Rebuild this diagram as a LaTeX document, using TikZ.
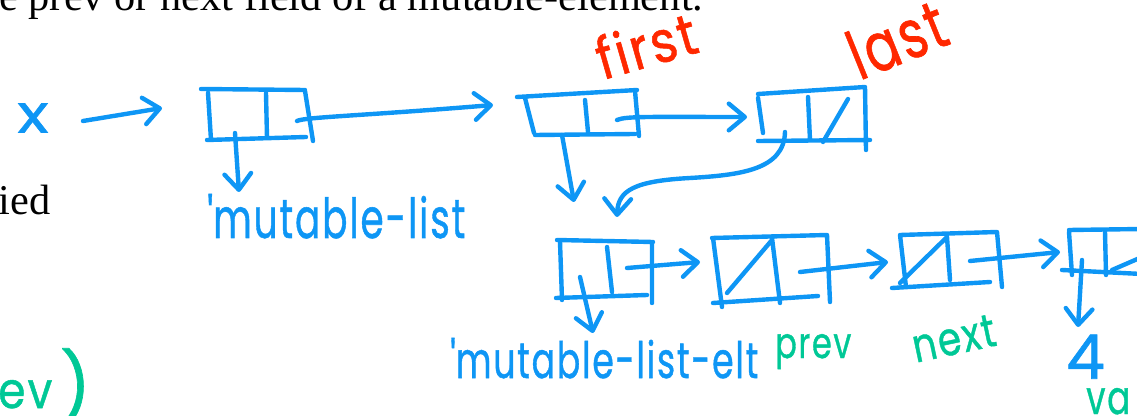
\documentclass[tikz,border=0pt]{standalone}
\usepackage{fontspec}
\setmainfont{Liberation Serif}
\newfontfamily\handfont[FakeBold=1,LetterSpace=5]{Poppins}
\usetikzlibrary{arrows.meta}
\newdimen\pxu \pxu=0.75pt
% scale a piece of lettering to a given width / height (in px units)
\newcommand\fitw[2]{\resizebox{#1\pxu}{!}{#2}}
\newcommand\fitwh[3]{\resizebox{#1\pxu}{#2\pxu}{#3}}
\newcommand\fith[2]{\resizebox*{!}{#1\pxu}{#2}}
\definecolor{inkblue}{RGB}{14,150,245}
\definecolor{inkred}{RGB}{255,40,0}
\definecolor{inkgreen}{RGB}{0,200,150}
\begin{document}
\begin{tikzpicture}[x=0.75pt,y=-0.75pt,
  pen/.style={line width=3.3pt, line cap=round, line join=round, draw=inkblue},
  ptr/.style={pen, -{Straight Barb[length=12pt,width=20pt,round]}},
  hand/.style={inner sep=0pt, font=\handfont},
  print/.style={inner sep=0pt, font=\fontsize{31.8}{38}\selectfont, text=black}]
\useasboundingbox (0,0) rectangle (1137,416);
\clip (0,0) rectangle (1137,416);

% printed text of the page
\node[print, anchor=base west] (line1) at (-1,11) {e prev or next field of a mutable-element.};
\node[print, anchor=base east] (word) at (51,215) {ied};

% variable x
\node[hand, text=inkblue] (xvar) at (33,118) {\fitwh{31}{29}{x}};
\coordinate (xout) at (83,121);
\coordinate (b1in) at (162,108);
\draw[ptr] (xout) -- (b1in);

% box 1: two fields
\draw[pen] (201,89) -- (305,90)  (208,93) -- (211,140)  (207,140) -- (306,137)
           (266,93) -- (267,138)  (305,91) -- (313,141);
\coordinate (b1nx) at (297,121);
\coordinate (b2in) at (493,105);
\draw[ptr] (b1nx) .. controls (305,117) and (360,116) .. (b2in);
\coordinate (b1car) at (235,133);
\coordinate (tag1) at (239,192);
\draw[ptr] (b1car) -- (tag1);
\node[hand, text=inkblue, anchor=base west] (lbl1) at (207,238) {\fitwh{258}{44}{\textquotesingle mutable-list}};

% box 2: first / last header
\draw[pen] (517,97) -- (637,90)  (525,98) -- (534,133)  (535,135) -- (635,134)
           (585,100) -- (588,132)  (635,91) -- (639,136);
\node[hand, text=inkred, anchor=base, rotate=16] (first) at (652,66) {\fitwh{102}{44}{first}};
\coordinate (b2nx) at (617,120);
\coordinate (b3in) at (747,117);
\draw[ptr] (b2nx) .. controls (626,116) and (650,117) .. (b3in);
\coordinate (b2car) at (562,135);
\coordinate (e1a) at (574,202);
\draw[ptr] (b2car) -- (e1a);

% box 3: last
\draw[pen] (758,94) -- (865,87)  (758,98) -- (763,133)  (758,141) -- (870,140)
           (808,97) -- (810,140)  (865,87) -- (866,150)  (848,99) -- (823,142);
\node[hand, text=inkred, anchor=base, rotate=22] (last) at (906,62) {\fitwh{100}{50}{last}};
\coordinate (b3car) at (785,132);
\coordinate (b3mid) at (690,178);
\coordinate (e1b) at (617,217);
\draw[ptr] (b3car) .. controls (784,170) and (740,175) .. (b3mid)
                   .. controls (635,181) and (618,190) .. (e1b);

% box 4: first element
\draw[pen] (557,240) -- (653,242)  (560,242) -- (562,300)  (556,298) -- (647,295)
           (607,247) -- (612,292)  (652,242) -- (652,303);
\coordinate (b4nx) at (627,268);
\coordinate (b5in) at (700,262);
\draw[ptr] (b4nx) -- (b5in);
\coordinate (b4car) at (580,277);
\coordinate (tag2) at (593,333);
\draw[ptr] (b4car) -- (tag2);
\node[hand, text=inkblue, anchor=base west] (lbl2) at (450,378) {\fitwh{308}{40}{\textquotesingle mutable-list-elt}};
\node[hand, text=inkgreen, anchor=base west] (prev) at (775,358) {\fitwh{76}{24}{prev}};

% box 5
\draw[pen] (712,238) -- (827,235)  (713,238) -- (722,307)  (713,303) -- (818,296)
           (772,238) -- (780,303)  (827,235) -- (830,302)  (727,293) -- (772,240);
\coordinate (b5nx) at (800,272);
\coordinate (b6in) at (888,262);
\draw[ptr] (b5nx) -- (b6in);

% box 6
\draw[pen] (900,235) -- (997,232)  (900,235) -- (906,287)  (892,288) -- (990,282)
           (947,237) -- (950,280)  (997,232) -- (1002,287)  (900,283) -- (947,237);
\node[hand, text=inkgreen, anchor=base, rotate=12] (next) at (957,354) {\fitwh{84}{32}{next}};
\coordinate (b6nx) at (970,261);
\coordinate (b7in) at (1060,252);
\draw[ptr] (b6nx) -- (b7in);

% box 7
\draw[pen] (1069,230) -- (1142,229)  (1069,232) -- (1072,275)  (1062,270) -- (1142,274)
           (1105,232) -- (1106,275);
\coordinate (b7nx) at (1112,270);
\coordinate (b7out) at (1142,257);
\draw[pen] (b7nx) -- (b7out);
\coordinate (b7car) at (1082,260);
\coordinate (val) at (1078,327);
\draw[ptr] (b7car) -- (val);
\node[hand, text=inkblue, anchor=south west] (four) at (1066,379) {\fith{44}{4}};
\node[hand, text=inkgreen, anchor=base west] (va) at (1086,414) {\fitwh{44}{26}{va}};

% leftover note at the bottom left
\node[hand, text=inkgreen, anchor=base west] (ev) at (-2,408) {\fitwh{54}{28}{ev}};
\node[hand, text=inkgreen, anchor=north west] (paren) at (60,348) {\fith{75}{)}};
\end{tikzpicture}
\end{document}
